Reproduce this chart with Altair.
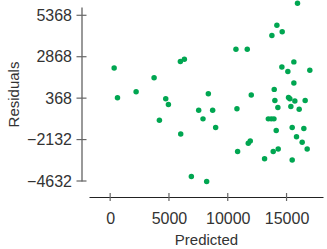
import altair as alt
import pandas as pd

predicted = [340, 623, 2207, 3736, 4188, 4726, 4953, 5971, 6311, 6000,
             6905, 7528, 7896, 8207, 8349, 8716, 8971, 10697, 10782, 10839,
             11660, 12000, 11745, 11914, 13131, 13450, 13700, 13930, 13754, 14178,
             14631, 14603, 15112, 15622, 15933, 16980, 15622, 13952, 14007, 14262,
             15168, 15281, 15706, 15367, 16074, 16584, 14122, 13867, 14291, 15480,
             15480, 15848, 16329, 16471, 16754]
residuals = [2192, 391, 756, 1605, -964, 331, -13, 2576, 2718, -1793,
             -4363, -357, -883, -4666, 634, -357, -1409, 3325, -276, -2845,
             3325, 553, -2360, -2218, -3290, -883, -883, -883, 4154, 4761,
             4377, 2253, 1969, 2556, 6096, 2050, 1282, 897, 230, -195,
             412, 331, 189, -135, -297, 230, -1591, -2845, -2704, -3371,
             -1409, -1955, -2299, -1470, -2704]

y_ticks = [-4632, -2132, 368, 2868, 5368]
x_ticks = [0, 5000, 10000, 15000]

W, H = 234, 174
FONT = "Liberation Sans Narrow, Arial Narrow, Liberation Sans, sans-serif"

df = pd.DataFrame({"Predicted": predicted, "Residuals": residuals})
ydf = pd.DataFrame({"v": y_ticks})
xdf = pd.DataFrame({"v": x_ticks})

xscale = alt.Scale(domain=[-1800, 18100], nice=False, zero=False)
yscale = alt.Scale(domain=[-4632, 5868], nice=False, zero=False)

points = alt.Chart(df).mark_circle(size=30, color="#00a651", opacity=1).encode(
    x=alt.X("Predicted:Q", scale=xscale,
            axis=alt.Axis(values=x_ticks, format="d", title="Predicted", offset=16,
                          ticks=False, tickSize=0, labelPadding=13, grid=False,
                          domainColor="#222", domainWidth=1.2,
                          labelFont=FONT, labelFontSize=16, labelColor="#333",
                          titleFont=FONT, titleFontSize=15, titleColor="#333",
                          titleFontWeight="normal", titlePadding=6)),
    y=alt.Y("Residuals:Q", scale=yscale,
            axis=alt.Axis(values=y_ticks, format="d", title="Residuals", offset=7.5,
                          ticks=False, tickSize=0, labelPadding=10, grid=False,
                          domainColor="#555", domainWidth=1.2,
                          labelFont=FONT, labelFontSize=16, labelColor="#333",
                          titleFont=FONT, titleFontSize=15, titleColor="#333",
                          titleFontWeight="normal", titlePadding=5)),
)

yt = alt.Chart(ydf).mark_rule(color="#666", strokeWidth=1.2).encode(
    y=alt.Y("v:Q", scale=yscale),
    x=alt.value(-12.5), x2=alt.value(-2.5),
)
xt = alt.Chart(xdf).mark_rule(color="#666", strokeWidth=1.2).encode(
    x=alt.X("v:Q", scale=xscale),
    y=alt.value(H + 12), y2=alt.value(H + 20),
)

chart = alt.layer(points, yt, xt).properties(
    width=W, height=H,
    autosize=alt.AutoSizeParams(type="none"),
    padding={"left": 89, "top": 7, "right": 4, "bottom": 68},
).configure(background="white").configure_view(stroke=None)

chart.save("out.html", embed_options={"renderer": "svg", "actions": False})
